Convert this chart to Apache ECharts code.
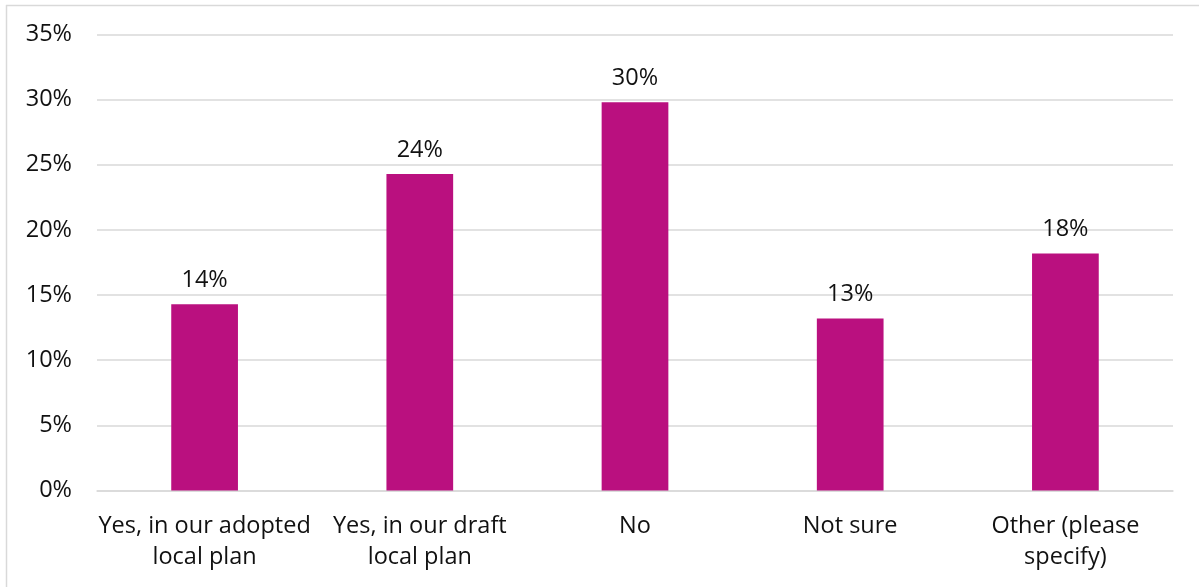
<!DOCTYPE html>
<html>
<head>
<meta charset="utf-8">
<script src="https://cdn.jsdelivr.net/npm/echarts@6/dist/echarts.min.js"></script>
<style>
  html, body { margin: 0; padding: 0; background: #fff; }
  #chart { width: 1199px; height: 587px; }
</style>
</head>
<body>
<div id="chart"></div>
<script>
// Survey responses (share of respondents, %)
const categories = [
  'Yes, in our adopted\nlocal plan',
  'Yes, in our draft\nlocal plan',
  'No',
  'Not sure',
  'Other (please\nspecify)'
];
const shares = [14.3, 24.3, 29.8, 13.2, 18.2];
const yTicks = [0, 5, 10, 15, 20, 25, 30, 35];

const FONT = '"Open Sans", "Noto Sans", sans-serif';
const TEXT = '#111111';

const chart = echarts.init(document.getElementById('chart'), null, { renderer: 'canvas' });
chart.setOption({
  animation: false,
  backgroundColor: '#ffffff',
  graphic: [
    { type: 'line', shape: { x1: 6, y1: 5.5, x2: 1199, y2: 5.5 }, style: { stroke: '#d9d9d9', lineWidth: 1.5 } },
    { type: 'line', shape: { x1: 6.5, y1: 5, x2: 6.5, y2: 587 }, style: { stroke: '#d9d9d9', lineWidth: 1.5 } }
  ],
  grid: { left: 97, right: 26, top: 34.5, bottom: 96.5, containLabel: false },
  xAxis: {
    type: 'category',
    data: categories,
    axisLine: { show: true, lineStyle: { color: '#d9d9d9', width: 1.5 } },
    axisTick: { show: false },
    axisLabel: {
      interval: 0,
      margin: 20,
      fontFamily: FONT,
      fontSize: 23.5,
      lineHeight: 31,
      color: TEXT
    }
  },
  yAxis: {
    type: 'value',
    min: yTicks[0],
    max: yTicks[yTicks.length - 1],
    interval: 5,
    axisLine: { show: false },
    axisTick: { show: false },
    splitLine: { lineStyle: { color: '#d9d9d9', width: 1.5 } },
    axisLabel: {
      margin: 25,
      fontFamily: FONT,
      fontSize: 23.5,
      color: TEXT,
      formatter: v => v + '%'
    }
  },
  series: [{
    type: 'bar',
    data: shares,
    barWidth: '31%',
    itemStyle: { color: '#ba107f' },
    label: {
      show: true,
      position: 'top',
      distance: 12,
      fontFamily: FONT,
      fontSize: 23.5,
      color: TEXT,
      formatter: p => Math.round(p.value) + '%'
    }
  }]
});
</script>
</body>
</html>
